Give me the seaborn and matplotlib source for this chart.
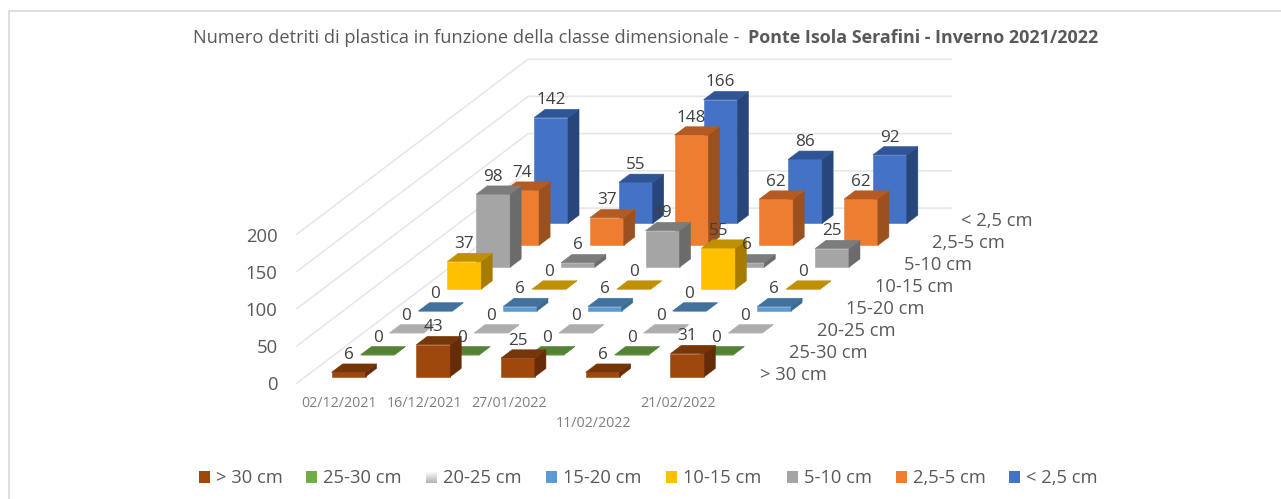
import matplotlib
matplotlib.use("Agg")
import matplotlib.pyplot as plt
import numpy as np
import seaborn as sns
from matplotlib.patches import Polygon, Rectangle

# dati
date = ["02/12/2021", "16/12/2021", "27/01/2022", "11/02/2022", "21/02/2022"]
classi = ["> 30 cm", "25-30 cm", "20-25 cm", "15-20 cm", "10-15 cm", "5-10 cm", "2,5-5 cm", "< 2,5 cm"]
v_30 = [6, 43, 25, 6, 31]
v_25_30 = [0, 0, 0, 0, 0]
v_20_25 = [0, 0, 0, 0, 0]
v_15_20 = [0, 6, 6, 0, 6]
v_10_15 = [37, 0, 0, 55, 0]
v_5_10 = [98, 6, 49, 6, 25]
v_2_5 = [74, 37, 148, 62, 62]
v_0_2 = [142, 55, 166, 86, 92]
valori = [v_30, v_25_30, v_20_25, v_15_20, v_10_15, v_5_10, v_2_5, v_0_2]
tick_y = [0, 50, 100, 150, 200]

# colori: fronte, lato, sopra
fronte = ["#9E480E", "#70AD47", "#D9D9D9", "#5B9BD5", "#FFC000", "#A5A5A5", "#ED7D31", "#4472C4"]
lato = ["#652C07", "#4A7A2E", "#8F8F8F", "#3B6C8F", "#A67C00", "#6B6B6B", "#9A501F", "#29467C"]
sopra = ["#773608", "#548235", "#ADADAD", "#41719C", "#BF9000", "#7C7C7C", "#B55A21", "#2F5597"]

sns.set_theme(style="white")
plt.rcParams["font.family"] = ["Open Sans", "DejaVu Sans"]
grigio = "#595959"

fig = plt.figure(figsize=(12.81, 4.99), dpi=100)
ax = fig.add_axes([0, 0, 1, 1])
ax.set_xlim(0, 1281)
ax.set_ylim(499, 0)
ax.axis("off")

# cornice del grafico: solo sopra e a sinistra restano visibili
ax.plot([8.5, 8.5, 1281], [499, 11, 11], color="#D9D9D9", lw=1.2, zorder=0)

# proiezione obliqua come nel 3D di Excel
X0, Y0 = 296.7, 383.3
DX_COL = 84.7
DX_ROW, DY_ROW = 28.93, 21.9
SCALA = 0.745


def proietta(c, r, z):
    return (X0 + c * DX_COL + r * DX_ROW, Y0 - r * DY_ROW - z * SCALA)


def faccia(punti, colore, ordine):
    ax.add_patch(Polygon([proietta(*p) for p in punti], closed=True, facecolor=colore,
                         edgecolor=colore, lw=0.4, zorder=ordine))


griglia = "#E6E6E6"
n_col, n_row = len(date), len(classi)
for t in tick_y:
    a, b, c = proietta(0, 0, t), proietta(0, n_row, t), proietta(n_col, n_row, t)
    ax.plot([a[0], b[0], c[0]], [a[1], b[1], c[1]], color=griglia, lw=1.1, zorder=1)

# barre, dal fondo verso il davanti
w0, w1 = 0.31, 0.71
d0, d1 = 0.3, 0.68
ordine = 2
for r in range(n_row - 1, -1, -1):
    for c in range(n_col):
        z = valori[r][c]
        x0, x1 = c + w0, c + w1
        y0, y1 = r + d0, r + d1
        faccia([(x0, y0, 0), (x1, y0, 0), (x1, y0, z), (x0, y0, z)], fronte[r], ordine)
        faccia([(x1, y0, 0), (x1, y1, 0), (x1, y1, z), (x1, y0, z)], lato[r], ordine)
        faccia([(x0, y0, z), (x1, y0, z), (x1, y1, z), (x0, y1, z)], sopra[r], ordine)
        ordine += 1

# etichette dei valori sopra le barre
for r in range(n_row):
    for c in range(n_col):
        z = valori[r][c]
        px, _ = proietta(c + (w0 + w1) / 2, r + d0, z)
        _, py = proietta(c, r + d1, z)
        ax.text(px, py - 9, str(z), ha="center", va="center", fontsize=12.3, color="#404040", zorder=200)

# asse valori
for t in tick_y:
    ax.text(277.7, Y0 + 1.7 - t * 0.742, str(t), ha="right", va="center", fontsize=13.3, color=grigio)

# date, la quarta e' piu' in basso come nell'originale
for c, d in enumerate(date):
    ax.text(339.2 + c * 84.8, 423.5 if c == 3 else 403.8, d, ha="center", va="center", fontsize=10.3, color="#7F7F7F")

# classi a destra
for r, nome in enumerate(classi):
    ax.text(760 + r * 28.7, 374.5 - r * 21.9, nome, ha="left", va="center", fontsize=13.2, color=grigio)

# titolo in due pezzi
t1 = ax.text(193, 38, "Numero detriti di plastica in funzione della classe dimensionale - ",
             ha="left", va="center", fontsize=13.15, color=grigio)
fig.canvas.draw()
fine = t1.get_window_extent().x1
ax.text(fine + 4, 38, "Ponte Isola Serafini - Inverno 2021/2022", ha="left", va="center", fontsize=12.9,
        fontweight="bold", color=grigio)

# legenda
pos_quad = [199, 306, 426, 546, 666, 787, 896, 1009]
leg_fronte = ["#9E480E", "#70AD47", "#D9D9D9", "#5B9BD5", "#FFC000", "#A5A5A5", "#ED7D31", "#4472C4"]
for px, nome, col in zip(pos_quad, classi, leg_fronte):
    if nome == "20-25 cm":
        grad = np.linspace(1, 0.7, 20).reshape(-1, 1)
        ax.imshow(grad, cmap="gray", vmin=0, vmax=1, extent=(px, px + 11, 483, 471), aspect="auto", zorder=3)
    else:
        ax.add_patch(Rectangle((px, 471), 11, 12, facecolor=col, edgecolor="none", zorder=3))
    ax.text(px + 17, 478, nome, ha="left", va="center", fontsize=13.2, color=grigio)

ax.set_xlim(0, 1281)
ax.set_ylim(499, 0)

fig.savefig("out.png", dpi=100, facecolor="white")
